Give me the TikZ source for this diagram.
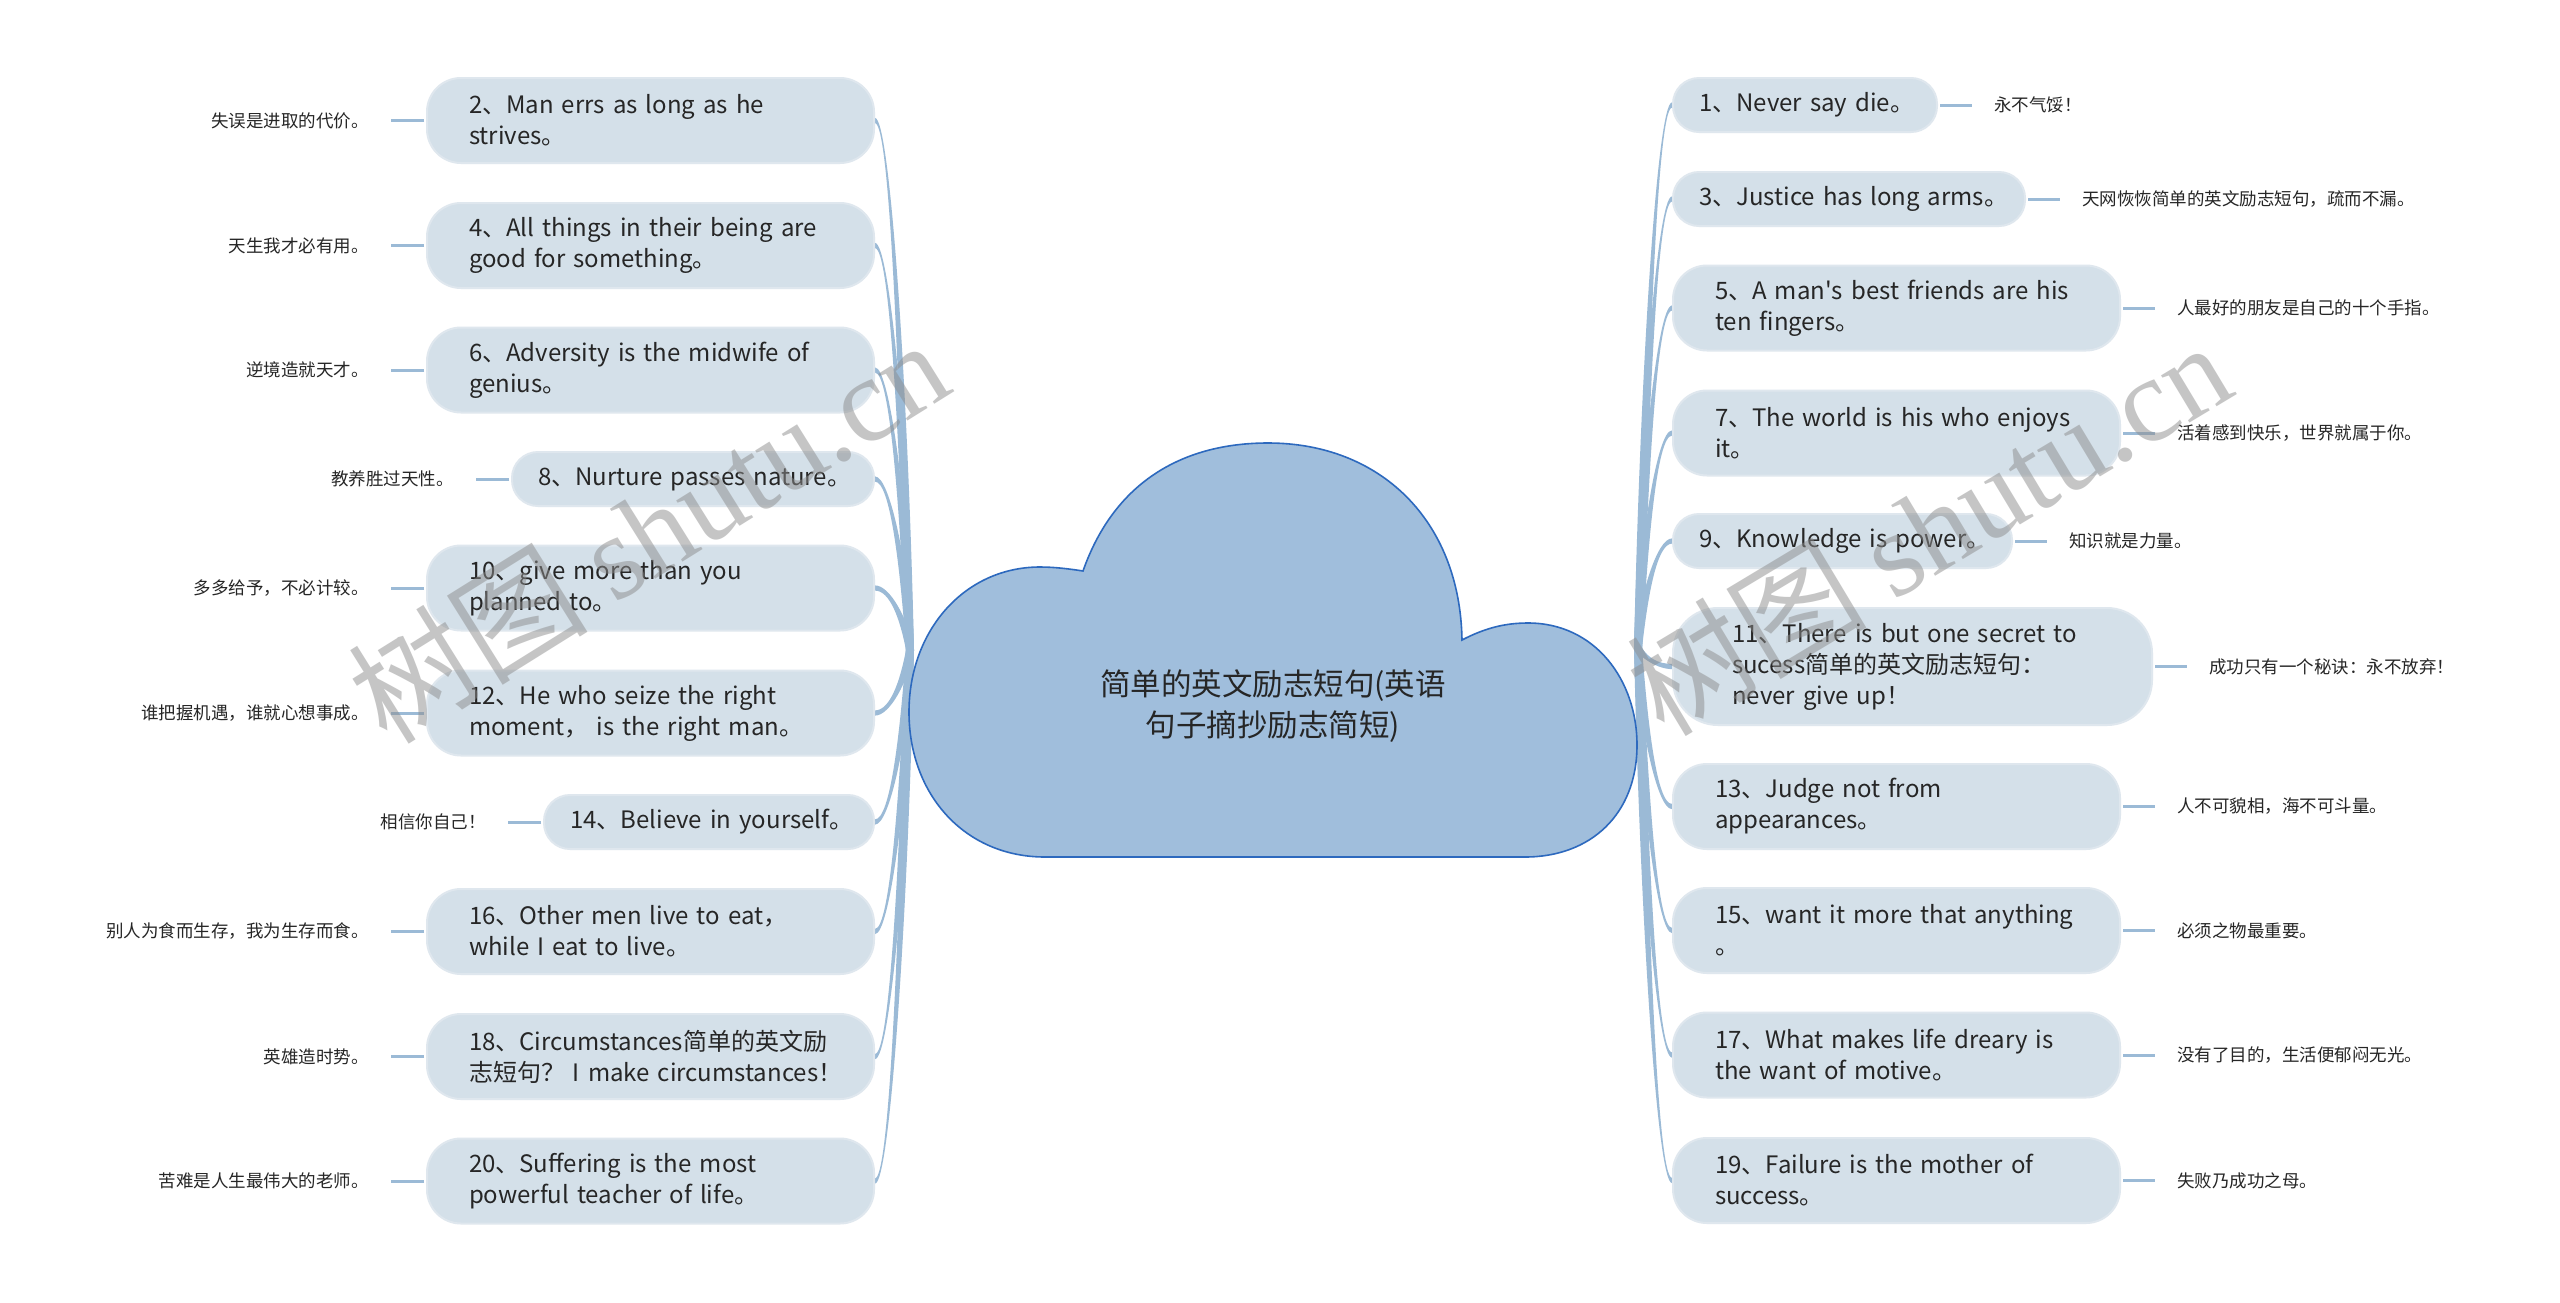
\documentclass[tikz,border=0pt]{standalone}
\usepackage{fontspec}
\setmainfont{Noto Sans CJK SC}
\newfontfamily\wmcjk{Noto Sans CJK SC}
\newfontfamily\wmlat{Liberation Serif}
\usetikzlibrary{calc,backgrounds}
\definecolor{nodefill}{RGB}{212,224,233}
\definecolor{nodeedge}{RGB}{223,231,238}
\definecolor{branchc}{RGB}{155,186,214}
\definecolor{cloudfill}{RGB}{160,190,220}
\definecolor{cloudedge}{RGB}{45,105,190}
\definecolor{txt}{RGB}{38,38,38}
\definecolor{wmgray}{RGB}{140,140,140}
\newcommand\oneln[1]{\mbox{#1}}
\newcommand\apos{{\wmcjk '}}
\def\insetone{26}\def\insettwo{42}\def\insetthree{59}
\tikzset{
 topicbase/.style={fill=nodefill, draw=nodeedge, line width=2pt, inner ysep=0pt, align=left, text=txt, font=\fontsize{24}{31}\selectfont},
 topicone/.style={topicbase, inner xsep=26pt, minimum height=54pt, rounded corners=26pt},
 topictwo/.style={topicbase, inner xsep=42pt, minimum height=85pt, rounded corners=34pt},
 topicthree/.style={topicbase, inner xsep=59pt, minimum height=117pt, rounded corners=45pt},
 lab/.style={inner sep=0pt, text=txt, font=\fontsize{17.5}{20}\selectfont},
 labline/.style={draw=branchc, line width=3pt},
 branch/.style={fill=branchc},
 cloud/.style={fill=cloudfill, draw=cloudedge, line width=1.6pt},
 title/.style={align=center, text=txt, font=\fontsize{30.5}{41}\selectfont, inner sep=0pt},
 wm/.style={text=wmgray, opacity=0.5, inner sep=0pt, font=\fontsize{120}{120}\selectfont},
}
\newcommand\lnode[6]{%
  \pgfmathsetmacro\tw{#3-2*\csname inset#4\endcsname}%
  \node[topic#4, text width=\tw pt, anchor=east] (#1) at (875,#2) {#5};
  \node[lab, anchor=east] (#1-l) at ([xshift=-57pt]#1.west) {#6};
  \draw[labline] ([xshift=-2pt]#1.west) -- ([xshift=22pt]#1-l.east);
}
\newcommand\rnode[6]{%
  \pgfmathsetmacro\tw{#3-2*\csname inset#4\endcsname}%
  \node[topic#4, text width=\tw pt, anchor=west] (#1) at (1672,#2) {#5};
  \node[lab, anchor=west] (#1-l) at ([xshift=56pt]#1.east) {#6};
  \draw[labline] ([xshift=2pt]#1.east) -- ([xshift=-22pt]#1-l.west);
}
\newcommand\lbranch[1]{%
 \fill[branch] let \p1=(rootL), \p2=(#1.east), \n1={sign(\y2-\y1)} in
   (\x1+4pt,\y1) .. controls (\x1-2pt,{\y1+0.5*(\y2-\y1)}) and (\x2+15pt,{\y2+2.6pt*\n1}) .. (\x2,{\y2+2.6pt*\n1})
   -- (\x2,{\y2-2.6pt*\n1}) .. controls (\x2+15pt,{\y2-2.6pt*\n1}) and (\x1-10pt,{\y1+0.5*(\y2-\y1)}) .. (\x1-4pt,\y1) -- cycle;}
\newcommand\rbranch[1]{%
 \fill[branch] let \p1=(rootR), \p2=(#1.west), \n1={sign(\y2-\y1)} in
   (\x1-4pt,\y1) .. controls (\x1+2pt,{\y1+0.5*(\y2-\y1)}) and (\x2-15pt,{\y2+2.6pt*\n1}) .. (\x2,{\y2+2.6pt*\n1})
   -- (\x2,{\y2-2.6pt*\n1}) .. controls (\x2-15pt,{\y2-2.6pt*\n1}) and (\x1+10pt,{\y1+0.5*(\y2-\y1)}) .. (\x1+4pt,\y1) -- cycle;}
\begin{document}
\begin{tikzpicture}[x=1pt,y=-1pt]
\useasboundingbox (0,0) rectangle (2560,1302);
% cloud
\draw[cloud] (1083,571)
 .. controls (1115,480) and (1185,443) .. (1268,443)
 .. controls (1380,443) and (1460,520) .. (1462,640)
 .. controls (1485,628) and (1505,623) .. (1528,623)
 .. controls (1595,623) and (1637,680) .. (1637,745)
 .. controls (1637,815) and (1590,857) .. (1525,857)
 -- (1045,857)
 .. controls (965,857) and (909,795) .. (909,712)
 .. controls (909,630) and (965,567) .. (1040,567)
 .. controls (1055,567) and (1070,569) .. (1083,571) -- cycle;
\node[title] (root) at (1273,706) {简单的英文励志短句(英语\\句子摘抄励志简短)};
\coordinate (rootL) at (910,650);
\coordinate (rootR) at (1638,648);
% left topics
\lnode{n2}{120.5}{447}{two}{\oneln{2、Man errs as long as he}\\\oneln{strives。}}{失误是进取的代价。}
\lnode{n4}{245.5}{447}{two}{\oneln{4、All things in their being are}\\\oneln{good for something。}}{天生我才必有用。}
\lnode{n6}{370}{447}{two}{\oneln{6、Adversity is the midwife of}\\\oneln{genius。}}{逆境造就天才。}
\lnode{n8}{479}{362}{one}{\oneln{8、Nurture passes nature。}}{教养胜过天性。}
\lnode{n10}{588}{447}{two}{\oneln{10、give more than you}\\\oneln{planned to。}}{多多给予，不必计较。}
\lnode{n12}{713}{447}{two}{\oneln{12、He who seize the right}\\\oneln{moment， is the right man。}}{谁把握机遇，谁就心想事成。}
\lnode{n14}{822}{330}{one}{\oneln{14、Believe in yourself。}}{相信你自己！}
\lnode{n16}{931.5}{447}{two}{\oneln{16、Other men live to eat，}\\\oneln{while I eat to live。}}{别人为食而生存，我为生存而食。}
\lnode{n18}{1056.5}{447}{two}{\oneln{18、Circumstances简单的英文励}\\\oneln{志短句？ I make circumstances！}}{英雄造时势。}
\lnode{n20}{1181}{447}{two}{\oneln{20、Suffering is the most}\\\oneln{powerful teacher of life。}}{苦难是人生最伟大的老师。}
% right topics
\rnode{n1}{105}{264}{one}{\oneln{1、Never say die。}}{永不气馁！}
\rnode{n3}{199}{352}{one}{\oneln{3、Justice has long arms。}}{天网恢恢简单的英文励志短句，疏而不漏。}
\rnode{n5}{308}{447}{two}{\oneln{5、A man\apos s best friends are his}\\\oneln{ten fingers。}}{人最好的朋友是自己的十个手指。}
\rnode{n7}{433}{447}{two}{\oneln{7、The world is his who enjoys}\\\oneln{it。}}{活着感到快乐，世界就属于你。}
\rnode{n9}{541}{339}{one}{\oneln{9、Knowledge is power。}}{知识就是力量。}
\rnode{n11}{666.5}{479}{three}{\oneln{11、There is but one secret to}\\\oneln{sucess简单的英文励志短句：}\\\oneln{never give up！}}{成功只有一个秘诀：永不放弃！}
\rnode{n13}{806.5}{447}{two}{\oneln{13、Judge not from}\\\oneln{appearances。}}{人不可貌相，海不可斗量。}
\rnode{n15}{930.5}{447}{two}{\oneln{15、want it more that anything}\\\oneln{。}}{必须之物最重要。}
\rnode{n17}{1055}{447}{two}{\oneln{17、What makes life dreary is}\\\oneln{the want of motive。}}{没有了目的，生活便郁闷无光。}
\rnode{n19}{1180.5}{447}{two}{\oneln{19、Failure is the mother of}\\\oneln{success。}}{失败乃成功之母。}
\begin{pgfonlayer}{background}
\fill[white] (0,0) rectangle (2560,1302);
\foreach \nm in {n2,n4,n6,n8,n10,n12,n14,n16,n18,n20} {\lbranch{\nm}}
\foreach \nm in {n1,n3,n5,n7,n9,n11,n13,n15,n17,n19} {\rbranch{\nm}}
\end{pgfonlayer}
% watermarks
\node[wm, rotate=32] (wm1) at (648,530) {{\wmcjk 树图} {\wmlat shutu.cn}};
\node[wm, rotate=31] (wm2) at (1928,527) {{\wmcjk 树图} {\wmlat shutu.cn}};
\end{tikzpicture}
\end{document}
